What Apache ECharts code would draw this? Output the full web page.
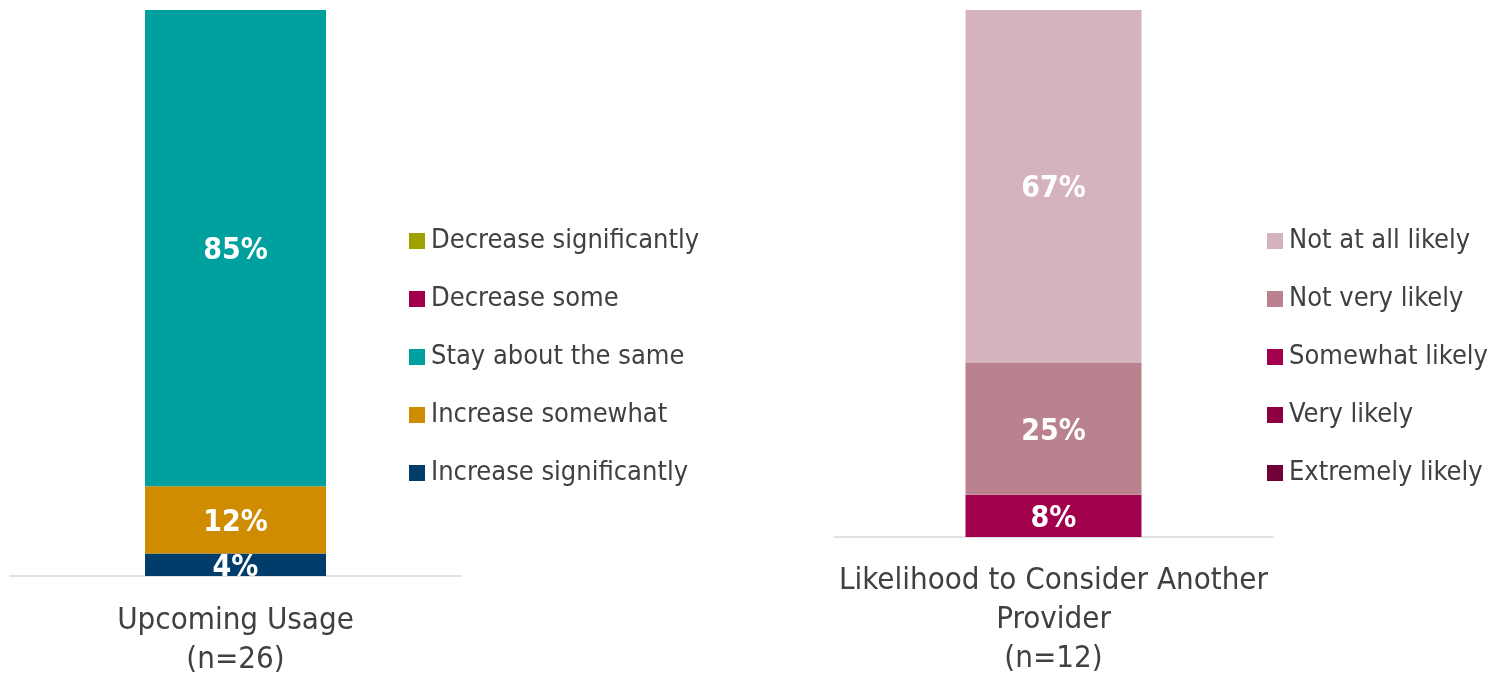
<!DOCTYPE html>
<html>
<head>
<meta charset="utf-8">
<script src="https://cdn.jsdelivr.net/npm/echarts@6/dist/echarts.min.js"></script>
<style>
  html, body { margin: 0; padding: 0; background: #ffffff; }
  #chart { width: 1494px; height: 673px; }
</style>
</head>
<body>
<div id="chart"></div>
<script>
// Upcoming usage panel
const usageCategory = ['Upcoming Usage\n(n=26)'];
const usageSeriesNames = ['Increase significantly', 'Increase somewhat', 'Stay about the same', 'Decrease some', 'Decrease significantly'];
const usageValues = [4, 12, 85, 0, 0];
const usageColors = ['#003D6B', '#CF8C00', '#00A09E', '#A0004A', '#A0A000'];

// Likelihood to switch panel
const switchCategory = ['Likelihood to Consider Another\nProvider\n(n=12)'];
const switchSeriesNames = ['Extremely likely', 'Very likely', 'Somewhat likely', 'Not very likely', 'Not at all likely'];
const switchValues = [0, 0, 8, 25, 67];
const switchColors = ['#700036', '#8C0042', '#A1004C', '#BA828E', '#D4B3BC'];

const FONT = '"DejaVu Sans Condensed", "DejaVu Sans", sans-serif';
const TEXT = '#404040';

function makeSeries(names, values, colors, axisIndex, stack, width) {
  return names.map((name, i) => ({
    name: name,
    type: 'bar',
    stack: stack,
    xAxisIndex: axisIndex,
    yAxisIndex: axisIndex,
    barWidth: width,
    data: [values[i]],
    itemStyle: { color: colors[i] },
    label: {
      show: true,
      position: 'inside',
      offset: [0, 3],
      color: '#ffffff',
      fontFamily: FONT,
      fontWeight: 'bold',
      fontSize: 30,
      formatter: p => (p.value > 0 ? p.value + '%' : '')
    },
    emphasis: { disabled: true }
  }));
}

function legend(names, left) {
  return {
    orient: 'vertical',
    left: left,
    top: 226,
    padding: 0,
    icon: 'rect',
    itemWidth: 16,
    itemHeight: 16,
    itemGap: 28,
    selectedMode: false,
    data: names.slice().reverse(),
    textStyle: { fontFamily: FONT, fontSize: 27, color: TEXT, lineHeight: 30, padding: [0, 0, 0, 1] }
  };
}

function xAxis(cats, gridIndex, margin) {
  return {
    type: 'category',
    gridIndex: gridIndex,
    data: cats,
    axisTick: { show: false },
    axisLine: { lineStyle: { color: '#D9D9D9', width: 1.5 } },
    axisLabel: { fontFamily: FONT, fontSize: 31, color: TEXT, lineHeight: 39, margin: margin, interval: 0 }
  };
}

const chart = echarts.init(document.getElementById('chart'), null, { renderer: 'canvas' });
chart.setOption({
  backgroundColor: '#ffffff',
  animation: false,
  legend: [legend(usageSeriesNames, 409), legend(switchSeriesNames, 1267)],
  grid: [
    { left: 10, top: 10, width: 451, height: 566, outerBoundsMode: 'none', containLabel: false },
    { left: 834, top: 10, width: 439, height: 527, outerBoundsMode: 'none', containLabel: false }
  ],
  xAxis: [xAxis(usageCategory, 0, 25), xAxis(switchCategory, 1, 24)],
  yAxis: [
    { type: 'value', gridIndex: 0, min: 0, max: 101, show: false },
    { type: 'value', gridIndex: 1, min: 0, max: 100, show: false }
  ],
  series: [
    ...makeSeries(usageSeriesNames, usageValues, usageColors, 0, 'usage', 181),
    ...makeSeries(switchSeriesNames, switchValues, switchColors, 1, 'switch', 176)
  ]
});
</script>
</body>
</html>
